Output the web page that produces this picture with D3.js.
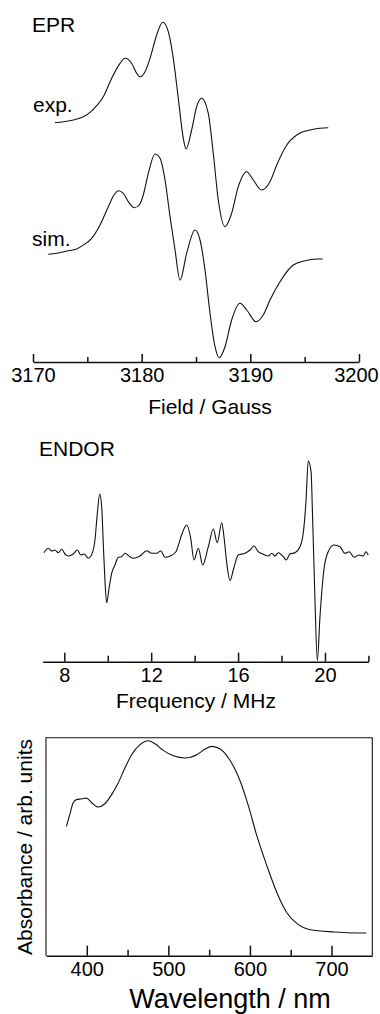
<!DOCTYPE html>
<html>
<head>
<meta charset="utf-8">
<script src="https://cdn.jsdelivr.net/npm/d3@7"></script>
<style>
  body { margin: 0; background: #fff; }
  svg { display: block; font-family: Arial, "Liberation Sans", sans-serif; }
</style>
</head>
<body>
<div class="canvas"></div>
<script>
// ---- data ----
// EPR, experimental trace
const eprExpField = [3172.02, 3172.79, 3173.71, 3174.63, 3175.25, 3175.86, 3176.47, 3177.24, 3178.01, 3178.47,
  3179.08, 3179.54, 3179.85, 3180.31, 3180.77, 3181.38, 3181.94, 3182.45, 3182.91, 3183.37,
  3183.83, 3184.08, 3184.60, 3185.06, 3185.52, 3186.13, 3186.59, 3187.05, 3187.67, 3188.28,
  3188.89, 3189.66, 3190.27, 3191.04, 3191.81, 3192.43, 3193.35, 3194.41, 3195.49, 3196.41, 3197.17];
const eprExpSignal = [2.3, 3.3, 5.0, 8.3, 12.7, 19.3, 28.3, 46.7, 61.7, 66.7,
  61.7, 51.7, 48.3, 53.3, 66.7, 90.0, 102.7, 93.3, 66.7, 26.7,
  -13.3, -24.0, -5.0, 18.3, 26.7, 11.7, -28.3, -75.0, -101.7, -88.3,
  -61.7, -46.7, -55.0, -65.0, -56.7, -40.0, -20.0, -9.0, -5.0, -3.3, -2.7];

// EPR, simulated trace
const eprSimField = [3171.41, 3172.18, 3173.10, 3174.02, 3174.63, 3175.40, 3176.17, 3176.93, 3177.45, 3177.85,
  3178.31, 3178.77, 3179.32, 3179.78, 3180.15, 3180.61, 3181.23, 3181.69, 3182.15, 3182.61,
  3183.07, 3183.53, 3184.14, 3184.91, 3185.37, 3185.83, 3186.29, 3186.75, 3187.14, 3187.67,
  3188.28, 3189.05, 3189.67, 3190.52, 3191.19, 3191.81, 3192.73, 3193.95, 3195.03, 3196.11, 3196.66];
const eprSimSignal = [2.7, 3.7, 6.0, 8.0, 12.0, 18.7, 32.0, 50.3, 62.0, 66.3,
  63.7, 55.3, 49.3, 52.0, 62.0, 83.7, 103.0, 98.7, 77.0, 40.3,
  7.0, -23.0, 3.7, 27.0, 17.0, -13.0, -56.3, -89.7, -100.7, -89.7,
  -63.0, -46.3, -53.0, -64.7, -58.0, -43.0, -24.7, -8.0, -3.7, -2.0, -2.0];

const eprMajorTicks = [3170, 3180, 3190, 3200];
const eprMinorTicks = [3175, 3185, 3195];

// ENDOR
const endorFreq = [7.07, 7.26, 7.42, 7.57, 7.72, 7.88, 8.03, 8.18, 8.41, 8.60,
  8.76, 8.91, 9.11, 9.31, 9.41, 9.52, 9.63, 9.72, 9.80, 9.87,
  9.95, 10.07, 10.18, 10.33, 10.49, 10.64, 10.79, 11.02, 11.18, 11.48,
  11.79, 12.02, 12.25, 12.44, 12.64, 12.87, 13.14, 13.40, 13.63, 13.82,
  13.97, 14.17, 14.37, 14.63, 14.86, 15.04, 15.25, 15.35, 15.48, 15.63,
  15.78, 16.01, 16.32, 16.55, 16.73, 16.93, 17.16, 17.39, 17.55, 17.70,
  17.85, 18.08, 18.21, 18.39, 18.62, 18.85, 19.00, 19.13, 19.23, 19.36,
  19.43, 19.54, 19.65, 19.77, 19.95, 20.15, 20.41, 20.69, 20.92, 21.12,
  21.34, 21.58, 21.76, 21.89, 21.99];
const endorSignal = [0.3, 4.7, 2.0, 3.0, 0.3, 3.7, -1.0, -3.0, -1.0, 3.0,
  -2.0, -1.0, -5.3, 1.3, 13.0, 39.7, 59.0, 46.3, 6.3, -27.0,
  -49.7, -33.7, -20.3, -12.0, -4.3, -3.7, -0.3, -3.7, -5.3, -3.0,
  2.3, -0.3, -0.3, 2.0, -4.3, -3.0, 1.3, 18.0, 28.0, 14.7,
  -7.0, 4.7, -12.0, 6.3, 24.0, 10.3, 30.3, 16.3, -10.3, -27.7,
  -17.0, -2.0, -0.3, 3.0, 7.0, 1.3, -1.3, -3.0, -0.3, -3.0,
  0.3, -3.7, -7.0, -1.0, 0.3, 6.3, 19.7, 53.0, 92.3, 81.3,
  36.3, -47.0, -107.7, -63.7, -17.0, 1.3, 8.0, 6.3, -0.3, 1.3,
  -4.3, -2.0, -3.0, 1.3, -2.0];

const endorMajorTicks = [8, 12, 16, 20];
const endorMinorTicks = [10, 14, 18, 22];

// UV-vis absorbance
const uvWavelength = [375.0, 379.1, 383.2, 387.3, 393.5, 399.6, 405.8, 413.9, 422.1, 430.4,
  438.5, 446.7, 455.0, 465.2, 475.4, 483.6, 493.8, 506.1, 520.5, 534.9,
  545.1, 553.3, 563.5, 573.7, 582.0, 588.1, 598.3, 608.7, 621.0, 633.2,
  645.5, 657.8, 674.2, 702.8, 742.7];
const uvAbsorbance = [0.593, 0.647, 0.700, 0.716, 0.719, 0.723, 0.703, 0.682, 0.697, 0.739,
  0.792, 0.861, 0.922, 0.968, 0.986, 0.972, 0.942, 0.917, 0.907, 0.922,
  0.948, 0.960, 0.948, 0.907, 0.853, 0.800, 0.685, 0.547, 0.410, 0.288,
  0.196, 0.147, 0.119, 0.109, 0.104];

const uvMajorTicks = [400, 500, 600, 700];
const uvMinorTicks = [450, 550, 650];

// ---- page ----
const width = 380, height = 1014;
const svg = d3.select(".canvas")
  .append("svg")
    .attr("width", width)
    .attr("height", height);

const lineColor = "#111";

// bottom axis with ticks pointing up, minor ticks without labels
function drawAxis(yPos, scale, major, minor, majorLen, minorLen) {
  const g = svg.append("g").attr("transform", `translate(0, ${yPos})`);
  g.append("g")
    .call(d3.axisBottom(scale).tickValues(minor).tickSize(-minorLen).tickSizeOuter(0).tickFormat(""))
    .call(a => a.select(".domain").remove());
  g.append("g")
    .call(d3.axisBottom(scale).tickValues(major).tickSize(-majorLen).tickSizeOuter(0)
      .tickPadding(6).tickFormat(d3.format("d")))
    .attr("font-size", 20)
    .attr("font-family", "Arial, 'Liberation Sans', sans-serif");
  g.selectAll("line").attr("stroke", lineColor).attr("stroke-width", 1.5);
  g.selectAll(".domain").attr("stroke", lineColor).attr("stroke-width", 1.4);
  g.selectAll("text").attr("fill", "#000");
  return g;
}

function label(x, y, txt, size, anchor) {
  return svg.append("text")
    .attr("x", x)
    .attr("y", y)
    .attr("text-anchor", anchor || "start")
    .style("font-size", (size || 21) + "px")
    .attr("fill", "#000")
    .text(txt);
}

// ===== EPR =====
const xEpr = d3.scaleLinear().domain([3170, 3200]).range([33, 359]);
const yEpr = d3.scaleLinear().domain([0, 100]).range([125, 25]);
const simShift = -132; // vertical stacking of the simulated trace

const eprLine = d3.line()
  .x(d => xEpr(d[0]))
  .y(d => yEpr(d[1]))
  .curve(d3.curveMonotoneX);

svg.append("path")
  .datum(eprExpField.map((f, i) => [f, eprExpSignal[i]]))
  .attr("d", eprLine)
  .attr("fill", "none")
  .attr("stroke", lineColor)
  .attr("stroke-width", 1.1);

svg.append("path")
  .datum(eprSimField.map((f, i) => [f, eprSimSignal[i] + simShift]))
  .attr("d", eprLine)
  .attr("fill", "none")
  .attr("stroke", lineColor)
  .attr("stroke-width", 1.1);

const eprAxis = drawAxis(362, xEpr, eprMajorTicks, eprMinorTicks, 8, 5);
// last label sits against the right edge, nudge it in
eprAxis.selectAll("text").filter(d => d === 3200).attr("dx", -3);

label(32, 32, "EPR");
label(33, 112, "exp.");
label(32, 246, "sim.");
label(210, 414, "Field / Gauss", 21, "middle");

// ===== ENDOR =====
const xEndor = d3.scaleLinear().domain([7, 22]).range([42.6, 368.4]);
const yEndor = d3.scaleLinear().domain([0, 100]).range([553, 453]);

svg.append("path")
  .datum(endorFreq.map((f, i) => [f, endorSignal[i]]))
  .attr("d", d3.line()
    .x(d => xEndor(d[0]))
    .y(d => yEndor(d[1]))
    .curve(d3.curveMonotoneX))
  .attr("fill", "none")
  .attr("stroke", lineColor)
  .attr("stroke-width", 1.1);

drawAxis(661.7, xEndor, endorMajorTicks, endorMinorTicks, 9, 6);

label(39, 456, "ENDOR");
label(196, 708, "Frequency / MHz", 21, "middle");

// ===== UV-vis =====
const xUv = d3.scaleLinear().domain([350, 750]).range([46, 372.3]);
const yUv = d3.scaleLinear().domain([0, 1]).range([955.7, 737.7]);

// frame (top, left, right)
svg.append("path")
  .attr("d", `M${xUv(350)},${yUv(0)} V${yUv(1)} H${xUv(750)} V${yUv(0)}`)
  .attr("fill", "none")
  .attr("stroke", lineColor)
  .attr("stroke-width", 1.1);

svg.append("path")
  .datum(uvWavelength.map((w, i) => [w, uvAbsorbance[i]]))
  .attr("d", d3.line()
    .x(d => xUv(d[0]))
    .y(d => yUv(d[1]))
    .curve(d3.curveMonotoneX))
  .attr("fill", "none")
  .attr("stroke", lineColor)
  .attr("stroke-width", 1.1);

drawAxis(955.7, xUv, uvMajorTicks, uvMinorTicks, 10, 6);

label(230, 1008, "Wavelength / nm", 27, "middle");

svg.append("text")
  .attr("transform", "translate(32, 847) rotate(-90)")
  .attr("text-anchor", "middle")
  .style("font-size", "21px")
  .attr("fill", "#000")
  .text("Absorbance / arb. units");
</script>
</body>
</html>
